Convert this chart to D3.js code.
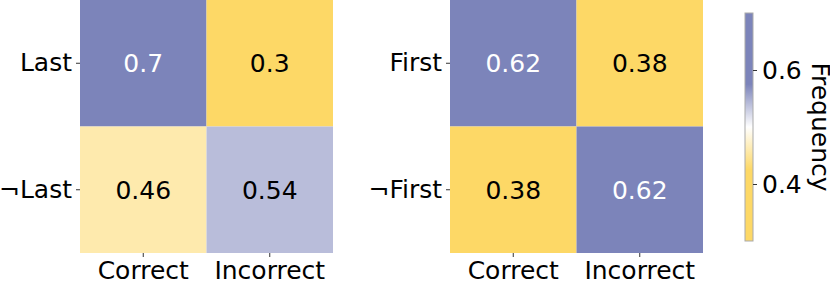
<!DOCTYPE html>
<html>
<head>
<meta charset="utf-8">
<script src="https://cdn.jsdelivr.net/npm/d3@7"></script>
<style>
  body { margin: 0; background: #fff; }
  svg { display: block; font-family: "DejaVu Sans", sans-serif; }
</style>
</head>
<body>
<svg id="chart" width="830" height="282"></svg>
<script>
const cols = ["Correct", "Incorrect"];
const rowsLast = ["Last", "¬Last"];
const valsLast = [[0.7, 0.3], [0.46, 0.54]];
const rowsFirst = ["First", "¬First"];
const valsFirst = [[0.62, 0.38], [0.38, 0.62]];
const cbarTicks = [0.4, 0.6];
const cbarRange = [0.3, 0.7];

const w = 830, h = 282;
const FONT = 25;
const yellow = "#fdd866", blue = "#7c84ba";

const color = d3.scaleLinear()
  .domain([0.3, 0.425, 0.5, 0.575, 0.7])
  .range([yellow, yellow, "#ffffff", blue, blue])
  .clamp(true);

const svg = d3.select('#chart');

function styleAxis(g) {
  g.select('.domain').remove();
  g.selectAll('.tick line').attr('stroke', '#333').attr('stroke-width', 1);
  g.selectAll('.tick text')
    .attr('font-size', FONT)
    .attr('font-family', '"DejaVu Sans", sans-serif')
    .attr('fill', '#000');
}

function heatmap(x0, x1, rows, vals) {
  const top = 0, bottom = 253;
  const xScale = d3.scaleBand().domain(cols).range([x0, x1]);
  const yScale = d3.scaleBand().domain(rows).range([top, bottom]);

  const cells = [];
  rows.forEach((r, i) => cols.forEach((c, j) => cells.push({ r, c, v: vals[i][j] })));

  const g = svg.append('g');
  g.selectAll('rect')
    .data(cells)
    .join('rect')
    .attr('x', d => xScale(d.c))
    .attr('y', d => yScale(d.r))
    .attr('width', xScale.bandwidth())
    .attr('height', yScale.bandwidth())
    .attr('fill', d => color(d.v));

  g.selectAll('text')
    .data(cells)
    .join('text')
    .attr('x', d => xScale(d.c) + xScale.bandwidth() / 2)
    .attr('y', d => yScale(d.r) + yScale.bandwidth() / 2)
    .attr('text-anchor', 'middle')
    .attr('dy', '0.36em')
    .attr('font-size', FONT)
    .attr('fill', d => d.v > 0.6 ? '#fff' : '#000')
    .text(d => d.v);

  svg.append('g')
    .attr('transform', `translate(0, ${bottom})`)
    .call(d3.axisBottom(xScale).tickSize(4).tickPadding(4))
    .call(styleAxis);

  svg.append('g')
    .attr('transform', `translate(${x0}, 0)`)
    .call(d3.axisLeft(yScale).tickSize(4).tickPadding(4))
    .call(styleAxis);
}

heatmap(80, 333, rowsLast, valsLast);
heatmap(450, 703, rowsFirst, valsFirst);

// COLORBAR
const cbX = 745, cbW = 8, cbTop = 13, cbBottom = 241;
const cbScale = d3.scaleLinear().domain(cbarRange).range([cbBottom, cbTop]);

const grad = svg.append('defs').append('linearGradient')
  .attr('id', 'cbgrad')
  .attr('x1', 0).attr('y1', 1).attr('x2', 0).attr('y2', 0);
grad.selectAll('stop')
  .data(color.domain())
  .join('stop')
  .attr('offset', d => (d - cbarRange[0]) / (cbarRange[1] - cbarRange[0]))
  .attr('stop-color', d => color(d));

svg.append('rect')
  .attr('x', cbX)
  .attr('y', cbTop)
  .attr('width', cbW)
  .attr('height', cbBottom - cbTop)
  .attr('fill', 'url(#cbgrad)')
  .attr('stroke', '#aaa')
  .attr('stroke-width', 1);

svg.append('g')
  .attr('transform', `translate(${cbX + cbW}, 0)`)
  .call(d3.axisRight(cbScale).tickValues(cbarTicks).tickFormat(d3.format('.1f')).tickSize(4).tickPadding(5))
  .call(styleAxis);

svg.append('text')
  .attr('transform', `translate(812, ${(cbTop + cbBottom) / 2}) rotate(90)`)
  .attr('text-anchor', 'middle')
  .attr('font-size', FONT)
  .text('Frequency');
</script>
</body>
</html>
